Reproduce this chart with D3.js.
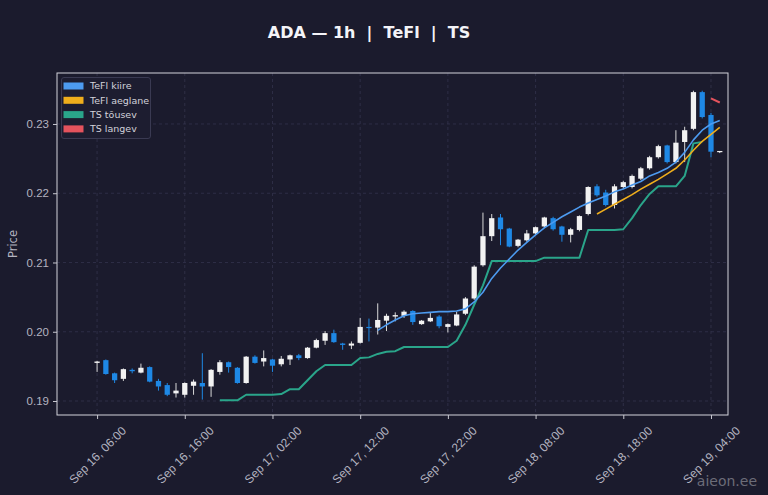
<!DOCTYPE html>
<html>
<head>
<meta charset="utf-8">
<script src="https://cdn.jsdelivr.net/npm/d3@7"></script>
<style>
  html, body { margin: 0; padding: 0; background: #1b1b2d; }
  svg { display: block; font-family: "DejaVu Sans", sans-serif; }
</style>
</head>
<body>
<div id="chart"></div>
<script>
// hourly candles, first one at Sep 16 06:00 (UTC)
const startTime = Date.UTC(2024, 8, 16, 6, 0)

const opens = [0.1955,0.1959,0.1940,0.1932,0.1945,0.1941,0.1949,0.1929,0.1923,0.1911,0.1909,0.1922,
  0.1926,0.1921,0.1942,0.1956,0.1948,0.1926,0.1964,0.1957,0.1960,0.1953,0.1960,0.1966,
  0.1962,0.1977,0.1987,0.1998,0.1983,0.1980,0.1984,0.2007,0.2006,0.2016,0.2022,0.2023,
  0.2030,0.2011,0.2015,0.2022,0.2007,0.2009,0.2026,0.2048,0.2096,0.2138,0.2165,0.2149,
  0.2124,0.2132,0.2142,0.2152,0.2164,0.2152,0.2140,0.2147,0.2170,0.2210,0.2201,0.2183,
  0.2209,0.2209,0.2221,0.2236,0.2252,0.2269,0.2245,0.2274,0.2293,0.2346,0.2313,0.2260]
const highs = [0.1958,0.1960,0.1941,0.1947,0.1947,0.1954,0.1950,0.1932,0.1926,0.1926,0.1927,0.1931,
  0.1969,0.1946,0.1959,0.1957,0.1949,0.1965,0.1966,0.1973,0.1961,0.1965,0.1967,0.1968,
  0.1978,0.1990,0.2001,0.2003,0.1984,0.1986,0.2020,0.2019,0.2041,0.2026,0.2028,0.2031,
  0.2031,0.2017,0.2027,0.2024,0.2012,0.2029,0.2050,0.2096,0.2172,0.2170,0.2170,0.2150,
  0.2134,0.2147,0.2152,0.2166,0.2166,0.2153,0.2150,0.2168,0.2210,0.2213,0.2205,0.2213,
  0.2218,0.2227,0.2238,0.2254,0.2270,0.2270,0.2291,0.2296,0.2348,0.2348,0.2316,0.2261]
const lows = [0.1942,0.1938,0.1926,0.1929,0.1940,0.1940,0.1927,0.1915,0.1907,0.1905,0.1905,0.1909,
  0.1902,0.1906,0.1938,0.1941,0.1925,0.1925,0.1954,0.1950,0.1942,0.1950,0.1952,0.1959,
  0.1961,0.1976,0.1981,0.1984,0.1974,0.1975,0.1983,0.1986,0.1996,0.2001,0.2015,0.2020,
  0.2010,0.2010,0.2014,0.2005,0.1999,0.2008,0.2024,0.2046,0.2094,0.2131,0.2125,0.2122,
  0.2122,0.2130,0.2140,0.2150,0.2146,0.2130,0.2129,0.2145,0.2168,0.2195,0.2181,0.2178,
  0.2206,0.2207,0.2219,0.2234,0.2250,0.2243,0.2243,0.2245,0.2291,0.2308,0.2252,0.2258]
const closes = [0.1957,0.1939,0.1930,0.1946,0.1943,0.1948,0.1928,0.1921,0.1909,0.1915,0.1926,0.1928,
  0.1921,0.1945,0.1956,0.1949,0.1926,0.1964,0.1955,0.1962,0.1951,0.1961,0.1966,0.1962,
  0.1977,0.1988,0.1998,0.1985,0.1981,0.1983,0.2007,0.2006,0.2017,0.2023,0.2024,0.2029,
  0.2014,0.2016,0.2020,0.2008,0.2011,0.2025,0.2048,0.2094,0.2138,0.2164,0.2148,0.2123,
  0.2133,0.2142,0.2151,0.2165,0.2148,0.2140,0.2148,0.2167,0.2209,0.2197,0.2183,0.2210,
  0.2216,0.2225,0.2236,0.2252,0.2268,0.2245,0.2273,0.2291,0.2346,0.2310,0.2260,0.2261]

const _ = null
// TeFl fast / slow, TS up / down (null = not drawn)
const tefKiire = [_,_,_,_,_,_,_,_,_,_,_,_, _,_,_,_,_,_,_,_,_,_,_,_,
  _,_,_,_,_,_,_,_,0.2002,0.2010,0.2017,0.2023,
  0.2026,0.2027,0.2028,0.2029,0.2029,0.2030,0.2033,0.2043,0.2057,0.2077,0.2092,0.2105,
  0.2118,0.2129,0.2140,0.2150,0.2158,0.2166,0.2173,0.2180,0.2186,0.2191,0.2196,0.2202,
  0.2206,0.2212,0.2217,0.2225,0.2230,0.2236,0.2245,0.2259,0.2277,0.2291,0.2300,0.2305]
const tefAeglane = [_,_,_,_,_,_,_,_,_,_,_,_, _,_,_,_,_,_,_,_,_,_,_,_,
  _,_,_,_,_,_,_,_,_,_,_,_, _,_,_,_,_,_,_,_,_,_,_,_,
  _,_,_,_,_,_,_,_,_,0.2170,0.2177,0.2184,
  0.2191,0.2198,0.2206,0.2213,0.2220,0.2228,0.2236,0.2248,0.2262,0.2275,0.2285,0.2295]
const tsUp = [_,_,_,_,_,_,_,_,_,_,_,_,
  _,_,0.1901,0.1901,0.1901,0.1909,0.1909,0.1909,0.1909,0.1910,0.1917,0.1917,
  0.1930,0.1943,0.1952,0.1952,0.1952,0.1952,0.1962,0.1963,0.1968,0.1971,0.1972,0.1978,
  0.1978,0.1978,0.1978,0.1978,0.1978,0.1987,0.2010,0.2039,0.2067,0.2102,0.2102,0.2102,
  0.2102,0.2102,0.2102,0.2107,0.2107,0.2107,0.2107,0.2107,0.2147,0.2147,0.2147,0.2147,
  0.2148,0.2164,0.2183,0.2199,0.2210,0.2210,0.2210,0.2225,0.2272,0.2274,_,_]
const tsDown = [_,_,_,_,_,_,_,_,_,_,_,_, _,_,_,_,_,_,_,_,_,_,_,_,
  _,_,_,_,_,_,_,_,_,_,_,_, _,_,_,_,_,_,_,_,_,_,_,_,
  _,_,_,_,_,_,_,_,_,_,_,_, _,_,_,_,_,_,_,_,_,_,0.2337,0.2331]

const yTicks = [0.19, 0.20, 0.21, 0.22, 0.23]
const xTicks = [
  Date.UTC(2024, 8, 16, 6), Date.UTC(2024, 8, 16, 16), Date.UTC(2024, 8, 17, 2),
  Date.UTC(2024, 8, 17, 12), Date.UTC(2024, 8, 17, 22), Date.UTC(2024, 8, 18, 8),
  Date.UTC(2024, 8, 18, 18), Date.UTC(2024, 8, 19, 4)
]
const legendNames = ["TeFl kiire", "TeFl aeglane", "TS tõusev", "TS langev"]
const legendColors = ["#4d9bf0", "#efae1c", "#2aa58a", "#e5535d"]

const HOUR = 3600 * 1000
const W = 768, H = 495
const plot = { left: 57, right: 728, top: 73, bottom: 415 }

const candles = opens.map((o, i) => ({
  t: new Date(startTime + i * HOUR), o: o, h: highs[i], l: lows[i], c: closes[i]
}))

const svg = d3.select("#chart").append("svg")
  .attr("width", W).attr("height", H)

svg.append("rect").attr("width", W).attr("height", H).attr("fill", "#1b1b2d")

const x = d3.scaleUtc()
  .domain([new Date(startTime - 4.57 * HOUR), new Date(startTime + 71.94 * HOUR)])
  .range([plot.left, plot.right])
const y = d3.scaleLinear()
  .domain([0.18798, 0.23736])
  .range([plot.bottom, plot.top])

// grid
const grid = svg.append("g")
grid.selectAll(".gy").data(yTicks).enter().append("line")
  .attr("x1", plot.left).attr("x2", plot.right)
  .attr("y1", d => y(d)).attr("y2", d => y(d))
  .attr("stroke", "#34344c").attr("stroke-width", 0.8).attr("stroke-dasharray", "3,3")
grid.selectAll(".gx").data(xTicks).enter().append("line")
  .attr("y1", plot.top).attr("y2", plot.bottom)
  .attr("x1", d => x(new Date(d))).attr("x2", d => x(new Date(d)))
  .attr("stroke", "#34344c").attr("stroke-width", 0.8).attr("stroke-dasharray", "3,3")

// candles
const bw = (x(new Date(startTime + HOUR)) - x(new Date(startTime))) * 0.6
const upCol = "#f2f2f2", downCol = "#1e88e5"
const cg = svg.append("g")
cg.selectAll("line.wick").data(candles).enter().append("line")
  .attr("x1", d => x(d.t)).attr("x2", d => x(d.t))
  .attr("y1", d => y(d.h)).attr("y2", d => y(d.l))
  .attr("stroke", d => d.c >= d.o ? "#d8d8d8" : downCol)
  .attr("stroke-width", 1)
cg.selectAll("rect.body").data(candles).enter().append("rect")
  .attr("x", d => x(d.t) - bw / 2)
  .attr("width", bw)
  .attr("y", d => y(Math.max(d.o, d.c)))
  .attr("height", d => Math.max(1.2, Math.abs(y(d.o) - y(d.c))))
  .attr("fill", d => d.c >= d.o ? upCol : downCol)

// indicator lines
function drawLine(vals, color, width) {
  const line = d3.line()
    .defined(d => d != null)
    .x((d, i) => x(new Date(startTime + i * HOUR)))
    .y(d => y(d))
  svg.append("path").datum(vals)
    .attr("d", line)
    .attr("fill", "none")
    .attr("stroke", color)
    .attr("stroke-width", width)
    .attr("stroke-linejoin", "round")
}
drawLine(tsUp, legendColors[2], 2)
drawLine(tsDown, legendColors[3], 2)
drawLine(tefKiire, legendColors[0], 1.6)
drawLine(tefAeglane, legendColors[1], 1.6)

// frame
svg.append("rect")
  .attr("x", plot.left).attr("y", plot.top)
  .attr("width", plot.right - plot.left).attr("height", plot.bottom - plot.top)
  .attr("fill", "none").attr("stroke", "#d4d4dc").attr("stroke-width", 1)

// axes
const yAxis = svg.append("g")
  .attr("transform", "translate(" + plot.left + ",0)")
  .call(d3.axisLeft(y).tickValues(yTicks).tickFormat(d3.format(".2f")).tickSize(4).tickPadding(4))
const xAxis = svg.append("g")
  .attr("transform", "translate(0," + plot.bottom + ")")
  .call(d3.axisBottom(x).tickValues(xTicks.map(d => new Date(d)))
    .tickFormat(d3.utcFormat("%b %d, %H:%M")).tickSize(4).tickPadding(4))
for (const ax of [xAxis, yAxis]) {
  ax.select(".domain").remove()
  ax.selectAll(".tick line").attr("stroke", "#c8c8d0")
  ax.selectAll(".tick text").attr("fill", "#b4b4c0").style("font-size", "11.5px")
}
// rotated labels centred under the tick (like matplotlib ha=center)
xAxis.selectAll(".tick text")
  .style("font-size", "12px")
  .attr("text-anchor", "middle")
  .attr("y", 0)
  .attr("dy", "0.35em")
  .attr("transform", function() {
    const len = this.getComputedTextLength()
    const half = (len + 13) * Math.SQRT1_2 / 2
    return "translate(0," + (9 + half) + ") rotate(-45)"
  })

svg.append("text")
  .attr("transform", "translate(17," + ((plot.top + plot.bottom) / 2) + ") rotate(-90)")
  .attr("text-anchor", "middle")
  .attr("fill", "#b4b4c0").style("font-size", "11.5px")
  .text("Price")

// title
svg.append("text")
  .attr("x", 369).attr("y", 38)
  .attr("text-anchor", "middle")
  .attr("fill", "#f4f4f8")
  .style("font-size", "16px").style("font-weight", "bold")
  .style("white-space", "pre")
  .text("ADA — 1h  |  TeFl  |  TS")

// legend
const lg = svg.append("g").attr("transform", "translate(61.5,77.5)")
lg.append("rect").attr("width", 89).attr("height", 61).attr("rx", 2.5)
  .attr("fill", "#1d1d30").attr("stroke", "#3a3a52").attr("stroke-width", 1)
legendNames.forEach((name, i) => {
  lg.append("rect").attr("x", 2).attr("y", 5 + i * 14.3).attr("width", 20).attr("height", 7)
    .attr("fill", legendColors[i])
  lg.append("text").attr("x", 28.5).attr("y", 8.5 + i * 14.3).attr("dy", "0.35em")
    .attr("fill", "#d2d2da").style("font-size", "9.5px").text(name)
})

// watermark
svg.append("text")
  .attr("x", 757).attr("y", 486).attr("text-anchor", "end")
  .attr("fill", "#6c6c78").style("font-size", "14px")
  .text("aieon.ee")
</script>
</body>
</html>
